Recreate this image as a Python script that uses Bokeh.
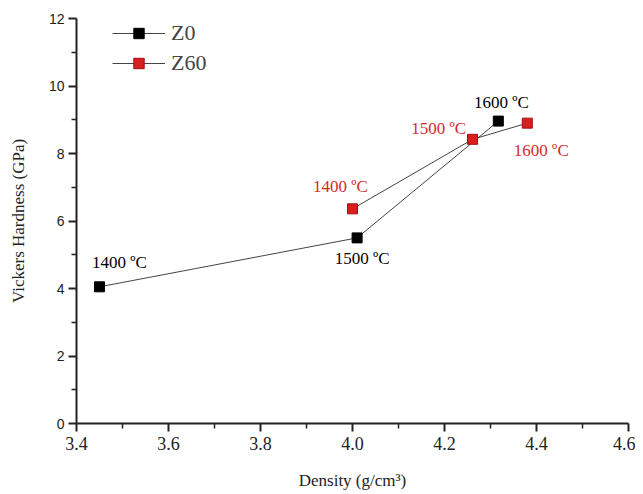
from bokeh.plotting import figure
from bokeh.models import ColumnDataSource, FixedTicker, Legend, LegendItem, Range1d
from bokeh.core.properties import value
from bokeh.embed import file_html
from bokeh.resources import INLINE

# Data
z0_density = [3.45, 4.01, 4.317]
z0_hardness = [4.05, 5.5, 8.96]
z0_labels = ["1400 ºC", "1500 ºC", "1600 ºC"]

z60_density = [4.0, 4.261, 4.38]
z60_hardness = [6.36, 8.42, 8.9]
z60_labels = ["1400 ºC", "1500 ºC", "1600 ºC"]

x_ticks = [3.4, 3.6, 3.8, 4.0, 4.2, 4.4, 4.6]
y_ticks = [0, 2, 4, 6, 8, 10, 12]

# label offsets in screen px (style; positive dy = downward)
z0_dx = [20, 5, 3]
z0_dy = [-24, 21, -19]
z60_dx = [-12, -34, 14]
z60_dy = [-22, -11, 27]

p = figure(width=635, height=492, output_backend="svg", toolbar_location=None,
           x_range=Range1d(3.4, 4.6), y_range=Range1d(0, 12),
           min_border_left=76, min_border_right=7, min_border_top=18, min_border_bottom=68)
p.outline_line_color = None
p.xgrid.visible = False
p.ygrid.visible = False

serif = "Liberation Serif"

z0_src = ColumnDataSource(dict(x=z0_density, y=z0_hardness, t=z0_labels, dx=z0_dx, dy=z0_dy))
z60_src = ColumnDataSource(dict(x=z60_density, y=z60_hardness, t=z60_labels, dx=z60_dx, dy=z60_dy))

l0 = p.line("x", "y", source=z0_src, line_color="#444444", line_width=1)
l1 = p.line("x", "y", source=z60_src, line_color="#444444", line_width=1)
s0 = p.scatter("x", "y", source=z0_src, marker="square", size=10, fill_color="black", line_color="black")
s1 = p.scatter("x", "y", source=z60_src, marker="square", size=10, fill_color="#d81e1e", line_color="#a01010")

p.text("x", "y", text="t", source=z0_src, x_offset="dx", y_offset="dy",
       text_font=value(serif), text_font_size="17px", text_color="black",
       text_align="center", text_baseline="middle")
p.text("x", "y", text="t", source=z60_src, x_offset="dx", y_offset="dy",
       text_font=value(serif), text_font_size="17px", text_color="#d42a2a",
       text_align="center", text_baseline="middle")

legend = Legend(items=[LegendItem(label="Z0", renderers=[l0, s0]),
                       LegendItem(label="Z60", renderers=[l1, s1])],
                location=(36, 347))
legend.padding = 0
legend.margin = 0
legend.spacing = 4
legend.glyph_width = 53
legend.glyph_height = 26
legend.label_height = 26
legend.label_standoff = 6
legend.label_text_font = serif
legend.label_text_font_size = "22px"
legend.label_text_baseline = "middle"
legend.border_line_color = None
legend.background_fill_alpha = 0
p.add_layout(legend)

p.xaxis.ticker = FixedTicker(ticks=x_ticks, minor_ticks=[3.5, 3.7, 3.9, 4.1, 4.3, 4.5])
p.yaxis.ticker = FixedTicker(ticks=y_ticks, minor_ticks=[1, 3, 5, 7, 9, 11])
p.xaxis.major_label_overrides = {t: f"{t:.1f}" for t in x_ticks}

for ax in (p.xaxis[0], p.yaxis[0]):
    ax.axis_line_width = 2
    ax.axis_line_color = "#222222"
    ax.major_tick_line_width = 2
    ax.major_tick_line_color = "#222222"
    ax.minor_tick_line_width = 1.5
    ax.minor_tick_line_color = "#222222"
    ax.major_tick_out = 8
    ax.major_tick_in = 0
    ax.minor_tick_out = 5
    ax.minor_tick_in = 0
    ax.axis_label_text_font = serif
    ax.axis_label_text_font_style = "normal"
    ax.axis_label_text_font_size = "17px"
    ax.axis_label_text_color = "#222222"

xa = p.xaxis[0]
ya = p.yaxis[0]
xa.axis_label = "Density (g/cm³)"
ya.axis_label = "Vickers Hardness (GPa)"
xa.major_label_text_font = serif
xa.major_label_text_font_size = "18px"
xa.major_label_text_color = "#222222"
ya.major_label_text_font = "Liberation Sans"
ya.major_label_text_font_size = "14px"
ya.major_label_text_color = "#222222"
xa.major_label_standoff = 5
ya.major_label_standoff = 4
xa.axis_label_standoff = 18
ya.axis_label_standoff = 18

open("out.html", "w").write(file_html(p, INLINE))
